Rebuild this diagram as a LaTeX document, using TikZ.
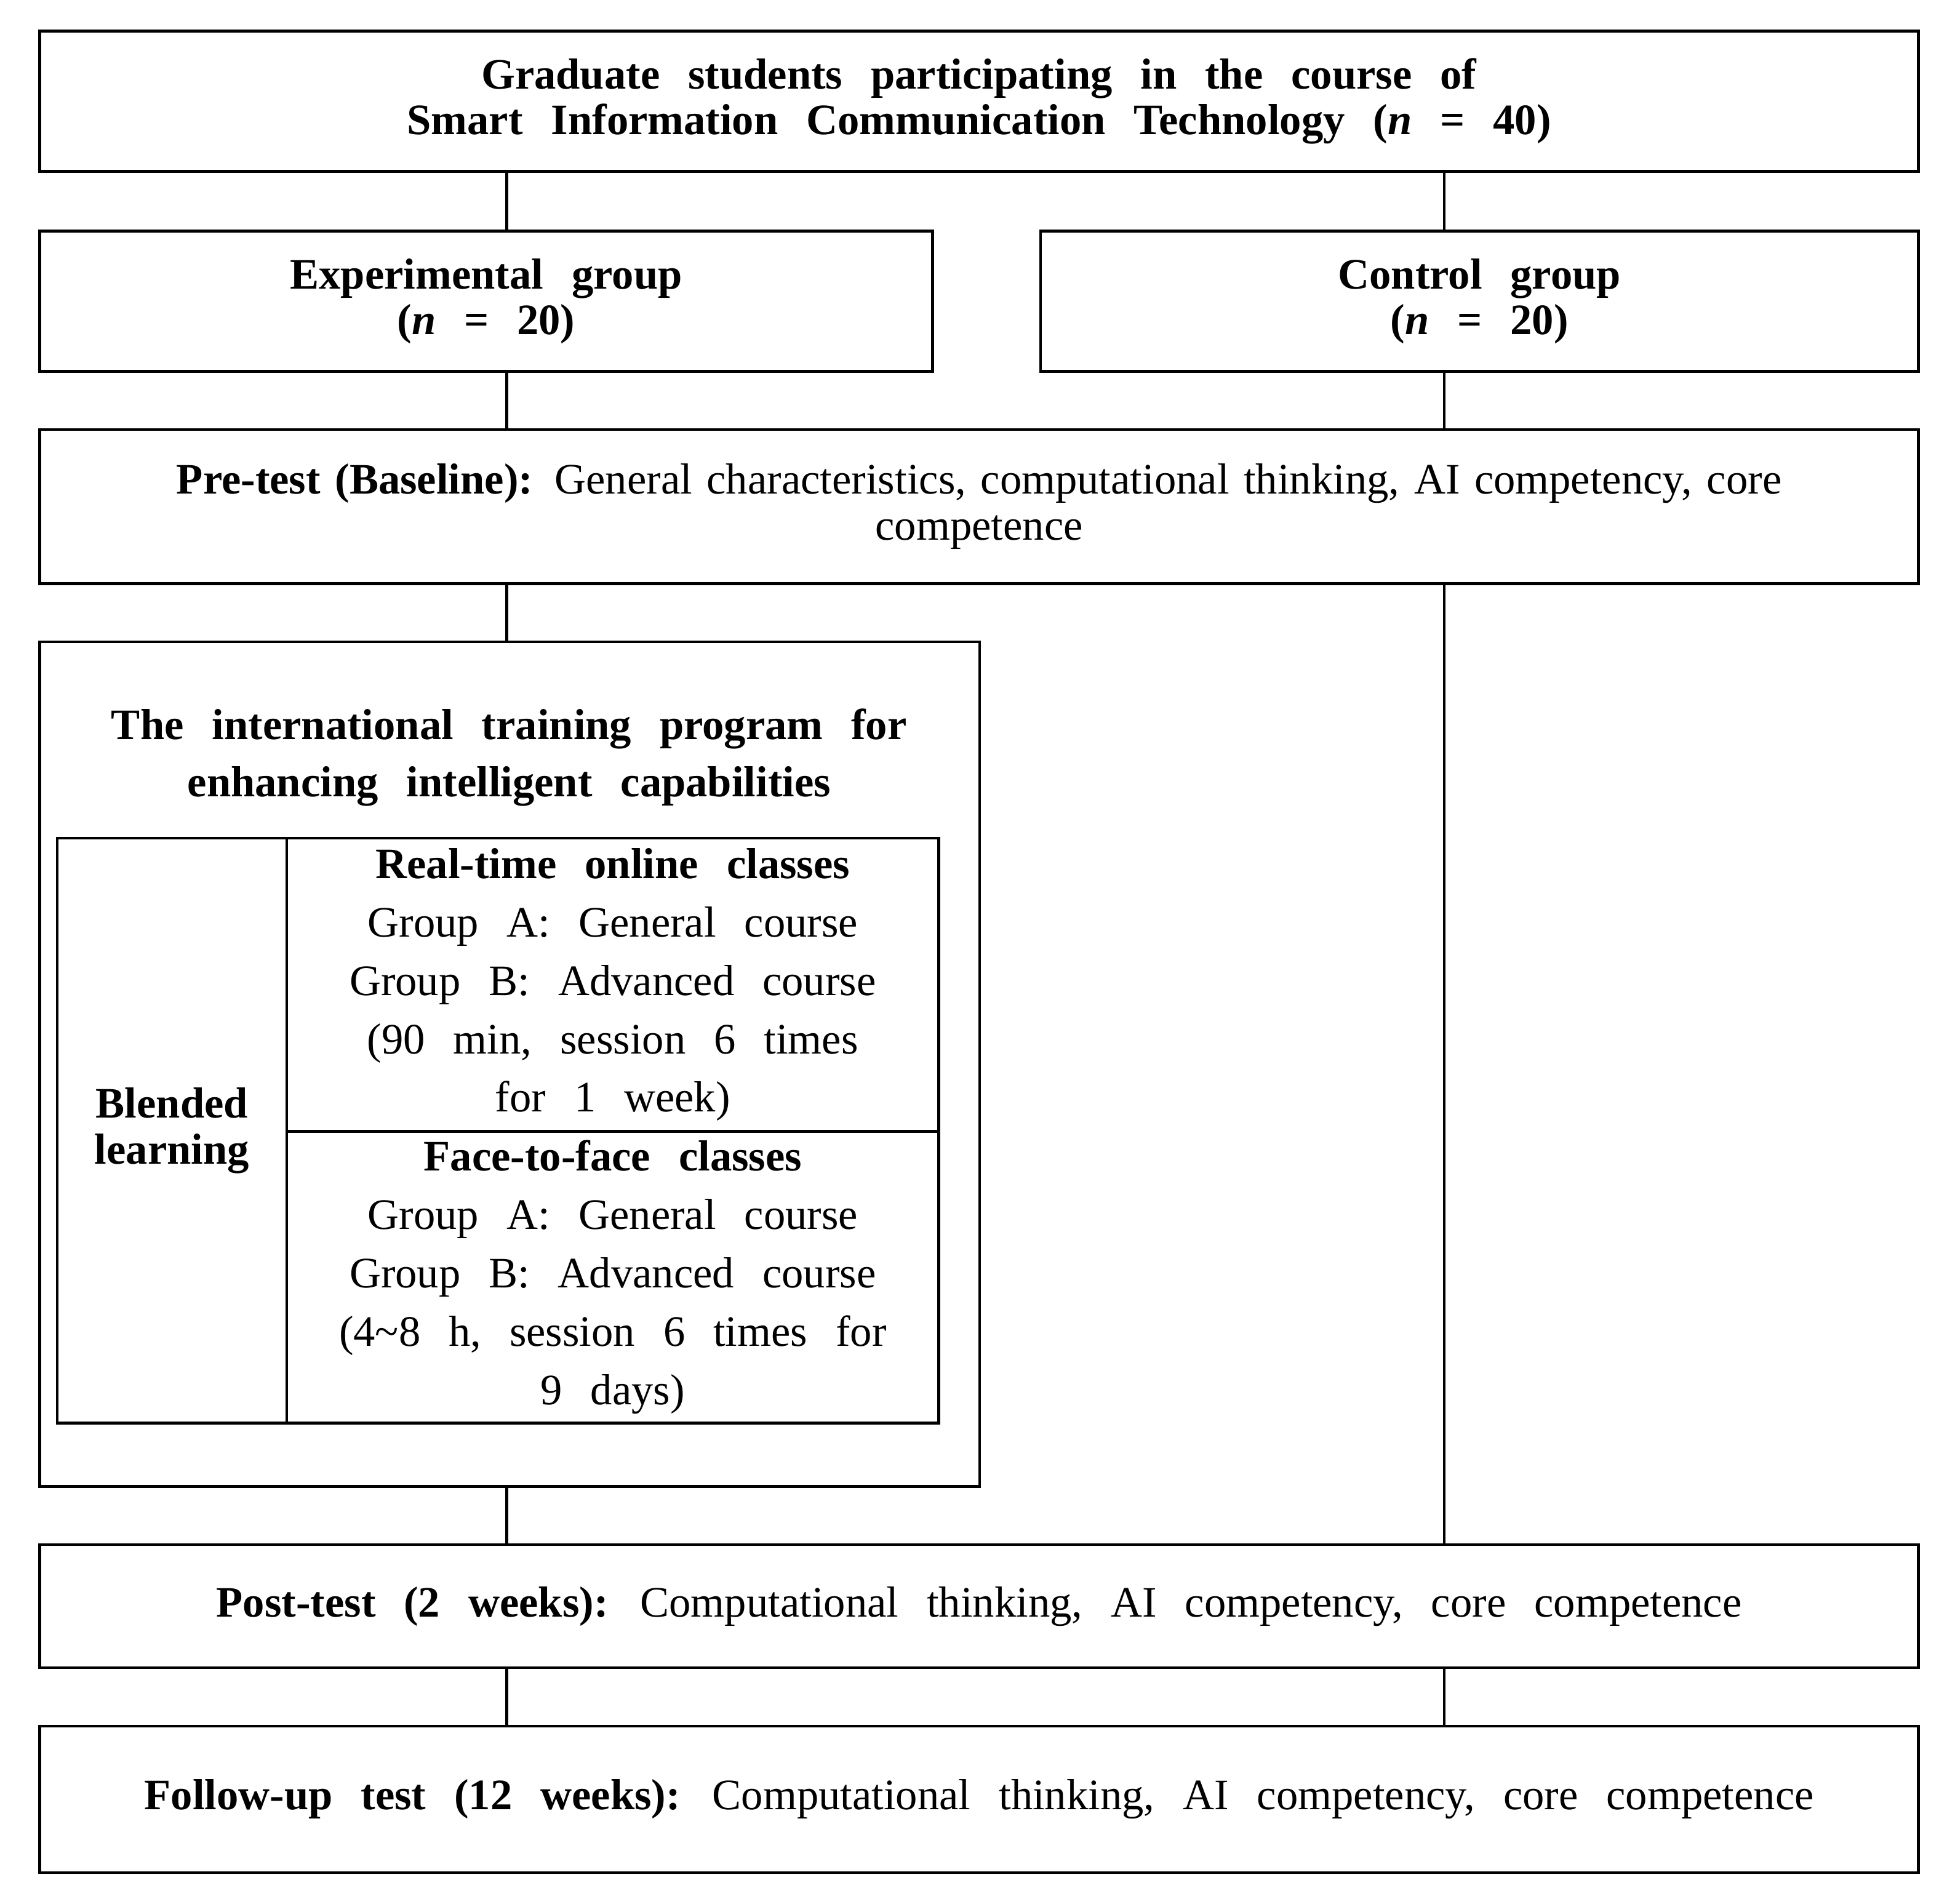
\documentclass[tikz,border=0pt]{standalone}
\usepackage{fontspec}
\setmainfont{Liberation Serif}[WordSpace=2.6]
\begin{document}
\begin{tikzpicture}[x=0.5pt,y=-0.5pt,
 box/.style={draw,line width=1.1pt,inner sep=0pt,align=center,font=\fontsize{17.5}{18.5}\selectfont},
 ln/.style={line width=1.1pt}]
\useasboundingbox (0,0) rectangle (1568,1533);
\node[box,minimum width=756.5pt,minimum height=56.5pt] (top) at (788.5,81.5) {\textbf{Graduate students participating in the course of}\\\textbf{Smart Information Communication Technology (\textit{n} = 40)}};
\node[box,minimum width=359.5pt,minimum height=56.5pt] (exp) at (391.5,242.5) {\textbf{Experimental group}\\\textbf{(\textit{n} = 20)}};
\node[box,minimum width=353.5pt,minimum height=56.5pt] (ctl) at (1191.5,242.5) {\textbf{Control group}\\\textbf{(\textit{n} = 20)}};
\node[box,minimum width=756.5pt,minimum height=62pt,text width=700pt] (pre) at (788.5,408) {\textbf{Pre-test (Baseline):} General characteristics, computational thinking, AI competency, core\\competence};
\node[box,minimum width=378.5pt,minimum height=340pt] (prog) at (410.5,857) {};
\node[font=\fontsize{17.5}{23}\selectfont\bfseries,align=center] (ptitle) at (410,610) {The international training program for\\enhancing intelligent capabilities};
\node[box,minimum width=92.5pt,minimum height=235.5pt] (bl) at (138.5,910.5) {\textbf{Blended}\\\textbf{learning}};
\node[box,minimum width=262.5pt,minimum height=118pt,font=\fontsize{17.5}{23.5}\selectfont] (rt) at (493.5,793) {\textbf{Real-time online classes}\\Group A: General course\\Group B: Advanced course\\(90 min, session 6 times\\for 1 week)};
\node[box,minimum width=262.5pt,minimum height=117.5pt,font=\fontsize{17.5}{23.5}\selectfont] (ff) at (493.5,1028.5) {\textbf{Face-to-face classes}\\Group A: General course\\Group B: Advanced course\\(4\textasciitilde8 h, session 6 times for\\9 days)};
\node[box,minimum width=756.5pt,minimum height=49.5pt] (post) at (788.5,1293.5) {\textbf{Post-test (2 weeks):} Computational thinking, AI competency, core competence};
\node[box,minimum width=756.5pt,minimum height=59pt] (fol) at (788.5,1449) {\textbf{Follow-up test (12 weeks):} Computational thinking, AI competency, core competence};
\coordinate (L) at (408,0);
\coordinate (R) at (1163,0);
\draw[ln] (top.south -| L) -- (exp.north -| L);
\draw[ln] (top.south -| R) -- (ctl.north -| R);
\draw[ln] (exp.south -| L) -- (pre.north -| L);
\draw[ln] (ctl.south -| R) -- (pre.north -| R);
\draw[ln] (pre.south -| L) -- (prog.north -| L);
\draw[ln] (pre.south -| R) -- (post.north -| R);
\draw[ln] (prog.south -| L) -- (post.north -| L);
\draw[ln] (post.south -| L) -- (fol.north -| L);
\draw[ln] (post.south -| R) -- (fol.north -| R);
\end{tikzpicture}
\end{document}
